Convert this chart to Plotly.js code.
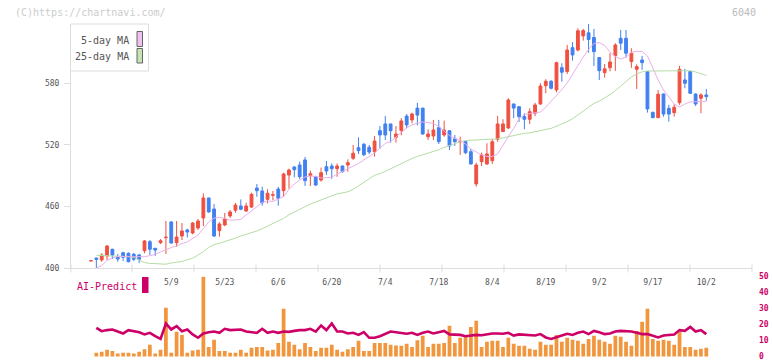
<!DOCTYPE html>
<html>
<head>
<meta charset="utf-8">
<script src="https://cdn.plot.ly/plotly-3.0.1.min.js"></script>
<style>html,body{margin:0;padding:0;background:#fff;}#chart{width:772px;height:361px;}</style>
</head>
<body>
<div id="chart"></div>
<script>
const openP = [407.2,410,408.1,412,418.5,410.7,415.2,414.6,413.6,413,417.1,425.9,419.5,424.9,429.8,445,424.9,431.4,437.3,434.3,439.2,448.9,468.4,457.7,436.6,442.1,450.9,456.5,460.6,455.7,459.6,478.1,475.2,467.1,471.1,477.1,475.5,490.7,498.5,500.5,505.4,490.1,489.1,485.9,498.8,499.5,496.9,499.5,500.5,507,517.3,520.6,517.7,513.4,533.8,540.4,540.4,527.4,533.9,548.1,544.3,555.8,555.8,528,528.7,536.8,529.7,533.8,526,523,523.2,513.4,482,503.7,501.5,504.7,525.5,533,536.5,559.8,557.2,547.5,544.9,550.8,559.8,577.6,581.9,573.5,595.1,591.3,614.6,612.3,626,629,624.5,605,590.3,595.1,606.8,623.7,623.7,601,593.6,602.6,591.3,551.8,546.5,569.5,555.6,551.4,561.1,583.2,591.3,569.5,565.4,568.6];
const highP = [407.4,410.2,414.6,422.5,419,413.9,416.1,415.5,415,414,427.5,427.5,419.7,428.5,446,446,446,444,438.5,445,448,473,468.6,462.5,445,453.8,456.7,463.5,467,463.8,473.5,482,479.4,476.9,475.2,479.4,493,496.9,499.5,503.7,508.3,495,490,497.9,504.4,502,502,500,506,520,527.4,522,520,528.7,538.4,548.2,540.5,538.4,546,550,551.5,561,556,535.2,544.3,544.3,543.6,534,529.7,528,523.5,516,502.7,512.5,521.6,526,548.2,545,565.4,560.2,557.5,550.8,555.6,561,580,583.9,583,601,599.4,617.2,620,633.5,632.8,637.6,632.8,605.2,598.7,609.2,618.9,631.8,631.8,614,598.4,606.5,591.5,552,573.4,570,559,559.5,596.8,594,591.5,570,570.2,574.4];
const lowP = [407.2,400.3,406.4,408,409,406.4,407,405.8,407,405,414.6,413,412,423.6,414,424,421,427.5,430,433,437.3,441,454,430.4,430.8,441,449,454,456.5,455,458.6,469.6,460.9,463.2,466.1,460.9,469.6,477.4,488.5,486.6,480.1,480,480,484.2,490.8,487,489,493,494,505.4,511.2,509,511,508.6,516.3,524.8,522.2,522.2,529.4,536.2,541,539,530,524.8,524.8,520.9,528,515,519,510.2,511,501,479.4,499.5,500.5,501.5,523.2,532.5,535.5,546,542.3,535.2,540.4,548,559,570.2,574,571.2,581.5,589,602,611,621.4,609.7,596.8,583.2,585.4,591.5,592,612.3,604.9,595,574.4,593,551.4,546,546,547.5,542.6,547.5,559,575.1,570,557.9,550.8,563];
const closeP = [407.4,408.8,412.9,421.7,412.9,409,410.7,406.4,408.8,408.8,426.6,418.5,417.8,426.8,430.2,424.6,430.4,436.3,435.3,444,446,468.4,454.8,431.4,443.1,448,454.8,461.5,457.4,460.6,472,475.5,463.8,473,471.5,468.1,491.7,495.6,495.9,489.1,485.2,492,481,493,494.6,496.9,499.5,494,502.7,511.9,514.4,510.5,513.1,523.8,529.7,529.7,533.8,530.6,543.3,539.4,550.1,549,530.6,530.6,534.5,523.2,534.5,519,523.2,523.5,512.4,501.5,500.5,510.3,511.2,523.2,540.4,540.4,563.7,555.8,547.5,544.9,552.3,558.9,577.3,581.9,575.1,600,590.7,612.3,607.5,631,631.2,622.5,610.7,592.2,594,600.7,617.2,618.9,609.2,609.2,596.1,600,555,546.5,569.3,550,550,556.6,593.6,580,570.2,559.8,568.6,567];
const ma5 = [null,400.3,402.7,407.6,410,411.5,411.7,411.5,411.3,411.3,411.3,412.3,413.6,415.9,418.3,420.2,421.7,424.1,425.6,428.7,432.4,438.7,445,448.9,449.4,448.6,446.8,447,447.5,451.9,455.7,460.1,464,465.5,465,467.4,469.9,476.7,482,485.9,488.8,489.8,489.3,487.8,487.8,488.5,491.7,494.1,496.6,499,501.9,505.4,509.2,512.2,517,521.4,523.3,527.7,531.6,536.5,539.4,541.3,542.3,541.8,540.9,537.9,534,529.2,526.3,524.3,520.9,516,513.1,510.2,508.8,508.8,511.2,520,528.2,536,545.2,549.6,550.5,551.1,552,556.8,562.2,568,573.9,580.2,589,597.7,605.5,612.8,618.7,619.4,616.7,610.4,606,603.6,605.3,610.1,611.1,610.9,606.5,594.9,583.2,573.4,566.6,559.8,556.9,559.8,561.8,562.3,562.3,562.3];
const ma25 = [null,412.6,412.5,412.3,412.1,412,411.7,411.4,410.5,408.1,405.6,404.8,404.4,404.1,404,405.2,405.6,406.6,408.4,409.8,413,416.2,420.3,423,424.3,425.8,427.6,429.4,431.4,432.9,434.1,436.3,438.5,440.9,443.5,445.5,448.6,452.1,455,457.6,460,462.4,464.6,466.8,468.6,470.5,472.4,473.2,474.4,476.8,480.5,483.9,487.1,490.5,492,494.3,496.8,499,501.9,504.8,506.8,508.7,510.2,511.7,513.3,515.3,517.5,519.6,521.4,523.2,524.3,524.6,524.9,525.1,525.5,525.6,525.8,526.9,528,529.2,530.3,531.3,531.7,532.6,533.7,535,536.1,538.1,540.2,542.6,545.4,548.8,552.9,556.8,560.3,562.7,565.5,568.8,572.8,577.3,581.8,586.1,589,591.1,591.9,591.9,591.9,591.9,591.9,591.9,591.9,591.9,592.1,591,589.5,587.5];
const volume = [0,2.3,2.9,4.2,3.5,1.9,2.3,2.3,1.9,2.9,4.6,7.3,1.9,4.2,30.4,2.3,15.4,13.5,2.3,3.8,4.2,49.8,6.0,10.4,3.5,3.5,2.3,2.3,4.2,2.3,5.4,6.0,6.0,3.8,4.2,8.5,29.8,9.2,7.3,4.6,8.5,6.0,3.5,5.4,5.4,7.3,4.2,2.9,4.6,6.0,9.8,3.5,3.5,8.5,8.5,8.5,7.3,6.9,6.7,7.9,6.0,10.2,12.9,6.0,7.9,7.9,8.5,19.2,8.5,11.7,13.5,18.5,22.3,6.0,9.2,9.8,9.8,6.0,11.7,7.9,6.7,6.7,4.8,4.2,9.2,7.3,7.3,13.5,9.2,11.7,10.4,9.8,7.9,11.0,12.9,10.4,9.2,7.9,12.9,12.3,9.2,6.7,16.0,21.7,29.8,11.0,9.8,10.4,9.8,7.3,15.4,6.0,6.0,4.2,4.8,5.4];
const aiPredict = [null,17.9,15.8,16.5,16.9,15.6,14.4,16.5,15.8,15.2,13.8,14.8,12.7,11.0,20.6,16.9,19.0,15.8,16.9,13.8,11.7,14.4,15.2,15.6,14.8,17.3,16.5,16.9,16.9,15.6,15.2,14.8,17.3,14.8,15.6,14.8,15.6,15.4,16.0,16.5,16.5,17.3,15.6,19.4,16.5,20.6,15.6,15.6,14.4,14.8,13.5,15.2,11.7,11.7,12.7,14.4,15.6,15.2,14.8,14.2,14.8,13.5,14.8,15.6,14.4,15.2,16.0,13.8,13.5,13.5,12.7,13.3,13.5,13.3,13.8,14.4,14.4,14.2,14.8,13.1,13.8,13.5,13.5,13.1,14.0,11.9,11.0,12.3,13.1,14.2,13.5,14.8,15.6,14.0,16.0,15.2,14.0,14.4,15.6,16.0,16.0,15.6,14.8,14.0,14.0,13.1,11.9,13.1,13.5,13.8,16.5,16.0,18.5,15.6,16.5,14.0];
const tickIndex = [15,25,35,45,55,65,75,85,95,105,115];
const tickLabels = ['5/9','5/23','6/6','6/20','7/4','7/18','8/4','8/19','9/2','9/17','10/2'];
const priceTicks = [400,460,520,580];
const rightTicks = [0,10,20,30,40,50];

const W = 772, H = 361;
const px = v => v / W;
const py = v => 1 - v / H;
const idx = closeP.map((_, i) => i);
const RED = '#f05040', BLUE = '#4080f0';
const FONT = 'DejaVu Sans Mono';
const xRange = [-(91 - 71) / 5.35, 115 + (752 - 706.3) / 5.35];

const traces = [
  {type:'scatter', mode:'lines', x:idx, y:ma25, line:{color:'#b4dca4', width:1}, hoverinfo:'skip', xaxis:'x', yaxis:'y'},
  {type:'scatter', mode:'lines', x:idx, y:ma5, line:{color:'#e8b0e8', width:1}, hoverinfo:'skip', xaxis:'x', yaxis:'y'},
  {type:'candlestick', x:idx, open:openP, high:highP, low:lowP, close:closeP,
   increasing:{line:{color:RED, width:1}, fillcolor:RED},
   decreasing:{line:{color:BLUE, width:1}, fillcolor:BLUE},
   whiskerwidth:0, hoverinfo:'skip', xaxis:'x', yaxis:'y'},
  {type:'bar', x:idx, y:volume, marker:{color:'#f2963e', line:{width:0}}, width:0.7, hoverinfo:'skip', xaxis:'x2', yaxis:'y2'},
  {type:'scatter', mode:'lines', x:idx, y:aiPredict, line:{color:'#cc0066', width:2.6}, hoverinfo:'skip', xaxis:'x2', yaxis:'y2'}
];

const gridTicks = [71,132,194,256,318,380,442,504,566,628,690,752];
const shapes = gridTicks.map(t => ({type:'line', xref:'paper', yref:'paper', x0:px(t), x1:px(t), y0:py(264.5), y1:py(272.5), line:{color:'#dddddd', width:1}}));
shapes.push({type:'rect', xref:'paper', yref:'paper', x0:px(70.5), x1:px(148.5), y0:py(71), y1:py(24), fillcolor:'#ffffff', line:{color:'#dddddd', width:1}});
shapes.push({type:'rect', xref:'paper', yref:'paper', x0:px(137), x1:px(142.5), y0:py(46.5), y1:py(31.5), fillcolor:'#f0c0f0', line:{color:'#666666', width:1}});
shapes.push({type:'rect', xref:'paper', yref:'paper', x0:px(137), x1:px(142.5), y0:py(63), y1:py(48.5), fillcolor:'#c4e4b4', line:{color:'#666666', width:1}});
shapes.push({type:'rect', xref:'paper', yref:'paper', x0:px(142), x1:px(148.5), y0:py(293), y1:py(277), fillcolor:'#cc0066', line:{width:0}});

const annotations = [
  {text:'(C)https://chartnavi.com/', xref:'paper', yref:'paper', x:px(13), y:py(12), xanchor:'left', yanchor:'middle', showarrow:false, font:{family:FONT, size:10, color:'#cccccc'}},
  {text:'6040', xref:'paper', yref:'paper', x:px(758), y:py(12), xanchor:'right', yanchor:'middle', showarrow:false, font:{family:FONT, size:10, color:'#bbbbbb'}},
  {text:'5-day MA', xref:'paper', yref:'paper', x:px(131), y:py(40.5), xanchor:'right', yanchor:'middle', showarrow:false, font:{family:FONT, size:10, color:'#555555'}},
  {text:'25-day MA', xref:'paper', yref:'paper', x:px(131), y:py(56.5), xanchor:'right', yanchor:'middle', showarrow:false, font:{family:FONT, size:10, color:'#555555'}},
  {text:'AI-Predict', xref:'paper', yref:'paper', x:px(74.5), y:py(286), xanchor:'left', yanchor:'middle', showarrow:false, font:{family:FONT, size:10, color:'#cc0066'}}
];

const layout = {
  width:W, height:H, autosize:false,
  margin:{l:0, r:0, t:0, b:0},
  paper_bgcolor:'#ffffff', plot_bgcolor:'rgba(0,0,0,0)',
  showlegend:false, boxgap:0.25,
  font:{family:FONT, size:8, color:'#555555'},
  xaxis:{domain:[px(71), px(752)], range:xRange, anchor:'y', rangeslider:{visible:false},
    tickmode:'array', tickvals:tickIndex, ticktext:tickLabels, ticks:'', ticklabelstandoff:6,
    showgrid:false, zeroline:false, showline:true, linecolor:'#dddddd', linewidth:1,
    tickfont:{family:FONT, size:8, color:'#555555'}},
  yaxis:{domain:[py(268.3), py(24)], range:[400, 637.6], anchor:'x',
    tickmode:'array', tickvals:priceTicks, ticks:'outside', ticklen:6, tickcolor:'#dddddd', ticklabelstandoff:3,
    showgrid:false, zeroline:false, showline:true, linecolor:'#dddddd', linewidth:1,
    tickfont:{family:FONT, size:8, color:'#555555'}},
  xaxis2:{domain:[px(71), px(752)], range:xRange, anchor:'y2', visible:false, showgrid:false, zeroline:false},
  yaxis2:{domain:[py(357.3), py(276.5)], range:[-0.5, 50], anchor:'x2', side:'right',
    tickmode:'array', tickvals:rightTicks, ticks:'', ticklabelstandoff:6, ticklabeloverflow:'allow',
    showgrid:false, zeroline:false, showline:false,
    tickfont:{family:FONT, size:8, color:'#cc0066', weight:'bold'}},
  shapes:shapes, annotations:annotations
};

Plotly.newPlot('chart', traces, layout, {staticPlot:true, displayModeBar:false});
</script>
</body>
</html>
